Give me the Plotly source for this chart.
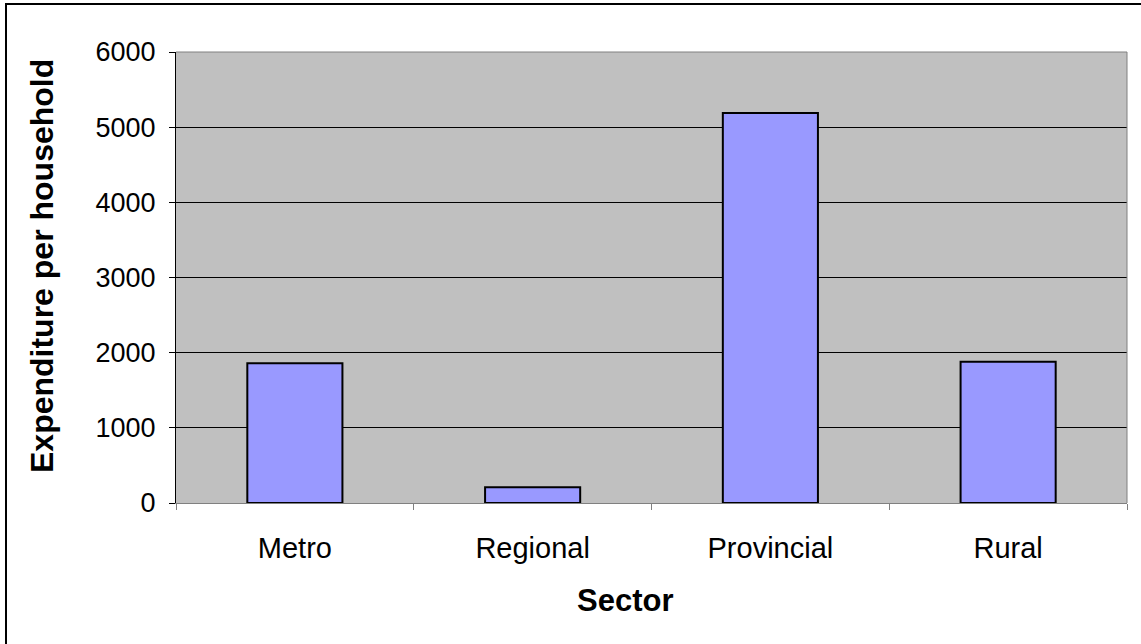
import plotly.graph_objects as go

categories = ["Metro", "Regional", "Provincial", "Rural"]
values = [1860, 210, 5190, 1880]
y_ticks = [0, 1000, 2000, 3000, 4000, 5000, 6000]
x_title = "Sector"
y_title = "Expenditure per household"

W, H = 1141, 644
L, R, T, B = 176, 1127, 52, 503

fig = go.Figure(go.Bar(
    x=categories, y=values,
    width=0.40,
    marker=dict(color="#9999FF", line=dict(color="#000000", width=2)),
))

pw, ph = R - L, B - T
def px_x(p):
    return (p - L) / pw
def px_y(p):
    return (B - p) / ph

font = "Liberation Sans, Arial, sans-serif"
fig.update_layout(
    width=W, height=H,
    margin=dict(l=L, r=W - R, t=T, b=H - B),
    paper_bgcolor="white", plot_bgcolor="#C0C0C0",
    showlegend=False,
    font=dict(family=font, size=28, color="black"),
    xaxis=dict(
        type="category", tickson="boundaries", ticks="outside", ticklen=6,
        tickcolor="#808080", showline=True, linecolor="#808080", linewidth=1,
        showgrid=False, zeroline=False,
        ticklabelstandoff=19,
        tickfont=dict(size=29),
    ),
    yaxis=dict(
        range=[0, 6000], tickvals=y_ticks, ticks="outside", ticklen=6,
        tickcolor="black", showline=True, linecolor="black", linewidth=1,
        showgrid=True, gridcolor="black", gridwidth=1, zeroline=False,
        ticklabelstandoff=8,
        tickfont=dict(size=27),
    ),
    annotations=[
        dict(text="<b>" + x_title + "</b>", xref="paper", yref="paper",
             x=px_x(625), y=px_y(600), showarrow=False,
             xanchor="center", yanchor="middle", font=dict(size=31)),
        dict(text="<b>" + y_title + "</b>", xref="paper", yref="paper",
             x=px_x(42), y=px_y(266), showarrow=False, textangle=-90,
             xanchor="center", yanchor="middle", font=dict(size=32)),
    ],
    shapes=[
        dict(type="line", xref="paper", yref="paper", x0=0, x1=1, y0=1, y1=1,
             line=dict(color="#808080", width=1)),
        dict(type="line", xref="paper", yref="paper", x0=1, x1=1, y0=0, y1=1,
             line=dict(color="#808080", width=1)),
        dict(type="rect", xref="paper", yref="paper",
             x0=px_x(6), x1=px_x(1160), y0=px_y(4), y1=px_y(660),
             line=dict(color="black", width=2)),
    ],
)

fig.write_html("out.html")
